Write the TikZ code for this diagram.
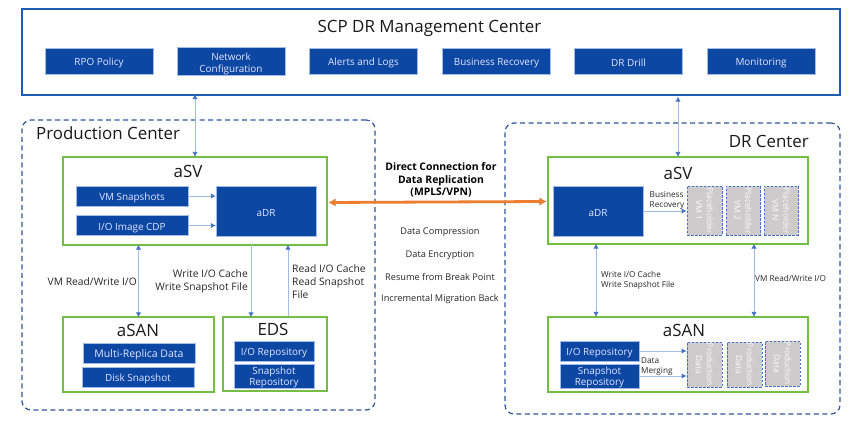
\documentclass[tikz,border=0pt]{standalone}
\usepackage{fontspec}
\setmainfont{Open Sans}
\usetikzlibrary{arrows.meta}
\definecolor{boxblue}{HTML}{0B47A3}
\definecolor{edgeblue}{HTML}{A3BCE6}
\definecolor{tipblue}{HTML}{4472C4}
\definecolor{frameblue}{HTML}{2F5597}
\definecolor{mgmtblue}{HTML}{1F5DB5}
\definecolor{zonegreen}{HTML}{72BF44}
\definecolor{linkorange}{HTML}{ED7D31}
\definecolor{holdgrey}{HTML}{CDCBCB}
\definecolor{labelgrey}{HTML}{262626}
\tikzset{%
  % Specifications for style of nodes:
        base/.style = {rectangle, inner sep=0pt, align=center},
     mgmtbox/.style = {base, draw=mgmtblue, line width=1.3pt},
     sitebox/.style = {base, draw=frameblue, line width=1.2pt, dash pattern=on 5pt off 3.5pt, rounded corners=9pt},
     zonebox/.style = {base, draw=zonegreen, line width=1.3pt},
     funcbox/.style = {base, fill=boxblue, draw=edgeblue, line width=.4pt, text=white!90!blue, font=\fontsize{9.9}{12}\selectfont,
                       execute at begin node={\rule{0pt}{11.5pt}}},
     holdbox/.style = {base, fill=holdgrey, draw=tipblue, line width=.8pt, dash pattern=on 2.5pt off 1.5pt},
    holdtext/.style = {base, text=white!92!holdgrey, rotate=-90, font=\fontsize{8.4}{11}\selectfont},
   bigtitle/.style = {base, text=black!90, font=\fontsize{16.9}{19}\selectfont},
     small/.style = {base, text=labelgrey, font=\fontsize{10.3}{13}\selectfont},
     tiny/.style = {base, text=labelgrey, font=\fontsize{8.2}{10}\selectfont},
     plain/.style = {base, text=labelgrey, font=\fontsize{9.2}{11}\selectfont},
     link/.style = {draw=edgeblue, line width=.9pt, {Latex[width=5.5pt,length=5pt,color=tipblue]}-{Latex[width=5.5pt,length=5pt,color=tipblue]}},
     oneway/.style = {draw=edgeblue, line width=.9pt, -{Latex[width=5.5pt,length=5pt,color=tipblue]}},
}

\begin{document}
\begin{tikzpicture}[x=1pt, y=-1pt]
  \useasboundingbox (0,0) rectangle (866,427);
  % Specification of nodes (position, etc.)
  \node (mgmt)  [mgmtbox, minimum width=818pt, minimum height=86pt] at (431,52) {};
  \node (mgmttitle) [bigtitle] at (429.5,28) {SCP DR Management Center};
  \node (rpo)     [funcbox, minimum width=108pt, minimum height=26pt] at (99,61) {RPO Policy};
  \node (network) [funcbox, minimum width=108pt, minimum height=26pt, execute at begin node={}] at (231,61) {\rule{0pt}{14pt}Network\\ Configuration};
  \node (alerts)  [funcbox, minimum width=108pt, minimum height=26pt] at (363.5,61) {Alerts and Logs};
  \node (recover) [funcbox, minimum width=108pt, minimum height=26pt, execute at begin node={}] at (496.5,61) {Business Recovery};
  \node (drill)   [funcbox, minimum width=108pt, minimum height=26pt] at (628.5,61) {DR Drill};
  \node (monitor) [funcbox, minimum width=108pt, minimum height=26pt] at (761,61) {Monitoring};

  % production side
  \node (prod) [sitebox, minimum width=353pt, minimum height=290pt] at (198.5,265) {};
  \node (prodtitle) [bigtitle, anchor=west] at (36,133.5) {Production Center};
  \node (asv) [zonebox, minimum width=264pt, minimum height=88pt] at (195,201) {};
  \node (asvtitle) [bigtitle] at (188,171) {aSV};
  \node (vmsnap)  [funcbox, minimum width=112pt, minimum height=20pt] at (132,196) {VM Snapshots};
  \node (iocdp)   [funcbox, minimum width=112pt, minimum height=20pt] at (132,225.5) {I/O Image  CDP};
  \node (adr)     [funcbox, minimum width=100pt, minimum height=50pt] at (266,211) {aDR};
  \node (asan) [zonebox, minimum width=151pt, minimum height=75pt] at (138.5,354.5) {};
  \node (asantitle) [bigtitle] at (138,330.5) {aSAN};
  \node (multi) [funcbox, minimum width=112pt, minimum height=20pt, font=\fontsize{10.5}{12}\selectfont] at (139,353) {Multi-Replica Data};
  \node (disk)  [funcbox, minimum width=112pt, minimum height=20pt] at (138,377) {Disk Snapshot};
  \node (eds) [zonebox, minimum width=104pt, minimum height=74pt] at (275,354) {};
  \node (edstitle) [bigtitle] at (273,329.5) {EDS};
  \node (iorepo)   [funcbox, minimum width=80pt, minimum height=20pt] at (274,351) {I/O Repository};
  \node (snaprepo) [funcbox, minimum width=80pt, minimum height=20pt, font=\fontsize{9.9}{10.8}\selectfont, execute at begin node={}] at (274,376) {\rule{0pt}{10.5pt}Snapshot\\ Repository};

  % disaster recovery side
  \node (dr) [sitebox, minimum width=335pt, minimum height=291pt] at (672.5,268.5) {};
  \node (drtitle) [bigtitle, anchor=east] at (809,141.5) {DR Center};
  \node (drasv) [zonebox, minimum width=260pt, minimum height=87pt] at (678,200.5) {};
  \node (drasvtitle) [bigtitle] at (678,173.5) {aSV};
  \node (dradr) [funcbox, minimum width=90pt, minimum height=50pt] at (598,211) {aDR};
  \node (vmone)   [holdbox, minimum width=35pt, minimum height=49pt] at (704.5,210.5) {};
  \node (vmtwo)   [holdbox, minimum width=34pt, minimum height=49pt] at (743,210.5) {};
  \node (vmlast)  [holdbox, minimum width=34pt, minimum height=49pt] at (781,210.5) {};
  \node (vmonetext)  [holdtext] at (vmone)  {Placeholder\\ VM 1};
  \node (vmtwotext)  [holdtext] at (vmtwo)  {Placeholder\\ VM 2};
  \node (vmlasttext) [holdtext] at (vmlast) {Placeholder\\ VM N};
  \node (drasan) [zonebox, minimum width=260pt, minimum height=75pt] at (678,354.5) {};
  \node (drasantitle) [bigtitle] at (684,330.5) {aSAN};
  \node (driorepo)   [funcbox, minimum width=79pt, minimum height=20pt] at (599.5,351) {I/O Repository};
  \node (drsnaprepo) [funcbox, minimum width=79pt, minimum height=20pt, font=\fontsize{9.9}{10.8}\selectfont, execute at begin node={}] at (599.5,376) {\rule{0pt}{10.5pt}Snapshot\\ Repository};
  \node (dataone)   [holdbox, minimum width=35pt, minimum height=45pt] at (704.5,364.5) {};
  \node (datatwo)   [holdbox, minimum width=35pt, minimum height=45pt] at (744.5,364.5) {};
  \node (datalast)  [holdbox, minimum width=35pt, minimum height=45pt] at (782.5,363.5) {};
  \node (dataonetext)  [holdtext] at (dataone)  {Production\\ Data};
  \node (datatwotext)  [holdtext] at (datatwo)  {Production\\ Data};
  \node (datalasttext) [holdtext] at (datalast) {Production\\ Data};

  % centre texts
  \node (direct) [base, font=\bfseries\fontsize{10.4}{12.6}\selectfont, text=black] at (441,180) {Direct Connection for\\ Data Replication\\ (MPLS/VPN)};
  \node (compress) [plain] at (440,232) {Data Compression};
  \node (encrypt)  [plain] at (440,255) {Data Encryption};
  \node (resume)   [plain] at (440,277) {Resume from Break Point};
  \node (migrate)  [plain] at (440,299) {Incremental Migration Back};

  % Specification of lines between nodes specified above
  \coordinate (wr) at (251,0);
  \coordinate (rd) at (288,0);
  \coordinate (drwr) at (596,0);
  \coordinate (drrd) at (754,0);

  \draw[link] ([yshift=1.5pt]mgmt.south -| asv.north) -- ([yshift=-.5pt]asv.north);
  \draw[link] ([yshift=-1pt]mgmt.south -| drasv.north) -- ([yshift=-.5pt]drasv.north);
  \draw[oneway] (vmsnap) -- (vmsnap -| adr.west);
  \draw[oneway] (iocdp) -- (iocdp -| adr.west);
  \draw[link] ([yshift=1pt]asv.south -| asan.north) -- ([yshift=-1pt]asan.north);
  \draw[oneway] ([yshift=2pt]asv.south -| wr) -- ([yshift=-1pt]eds.north -| wr);
  \draw[oneway] (eds.north -| rd) -- ([yshift=1pt]asv.south -| rd);
  \draw[link] ([yshift=1pt]drasv.south -| drwr) -- ([yshift=-.5pt]drasan.north -| drwr);
  \draw[link] ([yshift=1pt]drasv.south -| drrd) -- ([yshift=-.5pt]drasan.north -| drrd);
  \draw[oneway] (dradr.east) -- (dradr.east -| vmone.west);
  \draw[oneway] (driorepo) -- (driorepo -| dataone.west);
  \draw[oneway] (drsnaprepo) -- (drsnaprepo -| dataone.west);
  \draw[draw=linkorange, line width=2.8pt, {Latex[width=8.5pt,length=7.5pt]}-{Latex[width=8.5pt,length=7.5pt]}] ([xshift=.5pt,yshift=-1.5pt]asv.east) -- ([xshift=-.5pt,yshift=-1pt]drasv.west);

  % with aditional nodes for description
  \node (vmio)   [small, anchor=east] at (137,281.5) {VM Read/Write I/O};
  \node (wrtext) [small, anchor=east, align=right] at (248,281) {Write I/O Cache\\ Write Snapshot File};
  \node (rdtext) [small, anchor=west, align=left] at (292,282) {Read I/O Cache\\ Read Snapshot\\ File};
  \node (bustext) [tiny, anchor=west, align=left] at (649.5,200) {Business\\ Recovery};
  \node (drwrtext) [tiny, anchor=west, align=left] at (601,280) {Write I/O Cache\\ Write Snapshot File};
  \node (drrdtext) [tiny, anchor=west] at (755,278) {VM Read/Write I/O};
  \node (mergetext) [tiny, anchor=west, align=left] at (641,367) {Data\\ Merging};
\end{tikzpicture}
\end{document}
